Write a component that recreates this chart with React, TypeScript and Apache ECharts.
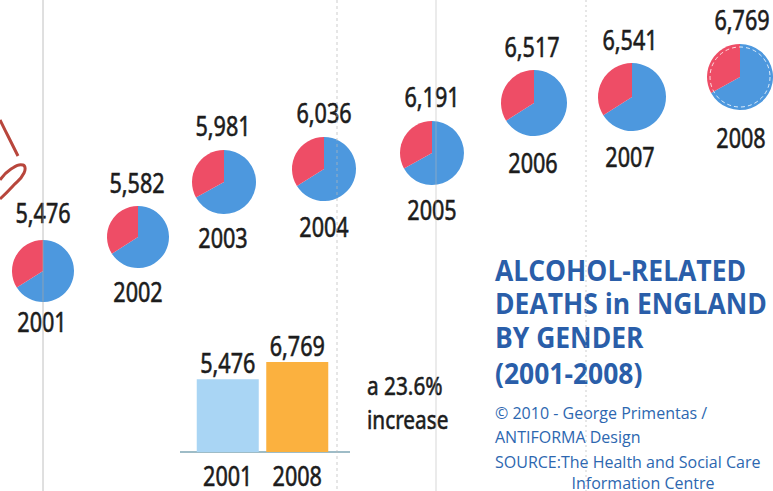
import React, { useEffect, useRef } from "react";
import * as echarts from "echarts";

// ---- data ----
const years = ["2001", "2002", "2003", "2004", "2005", "2006", "2007", "2008"];
const totals = [5476, 5582, 5981, 6036, 6191, 6517, 6541, 6769];
const maleDeaths = [3616, 3682, 4006, 3986, 4146, 4302, 4316, 4534];
const femaleDeaths = [1860, 1900, 1975, 2050, 2045, 2215, 2225, 2235];
const barYears = ["2001", "2008"];
const barValues = [5476, 6769];
const increaseText = ["a 23.6%", "increase"];
const titleLines = ["ALCOHOL-RELATED", "DEATHS in ENGLAND", "BY GENDER", "(2001-2008)"];
const creditLines = ["© 2010 - George Primentas /", "ANTIFORMA Design", "SOURCE:The Health and Social Care"];
const creditLast = "Information Centre";

// ---- layout ----
const pieCenters = [[43, 271], [138, 237], [224, 182], [324, 169], [432, 153], [534, 103], [632, 97], [740, 77]];
const pieRadii = [31, 31, 32, 32, 32, 33, 34, 33];
const totalLabelPos = [[43, 213], [137, 183], [223, 126], [324, 113], [432, 97], [532, 47], [630, 40], [742, 20]];
const yearLabelPos = [[42, 322], [138, 292], [223, 238], [324, 227], [432, 210], [533, 163], [630, 157], [741, 138]];

const BLUE = "#4d98de";
const RED = "#ee4d66";
const BAR_COLORS = ["#a9d5f4", "#fbb13f"];
const TEXT = "#1c1c1c";
const TITLE_BLUE = "#2a5ea9";
const NUM_FONT = "'Noto Sans', sans-serif";
const COND_SCALE = 0.8;

const fmt = (v: number) => v.toLocaleString("en-US");

function txt(x: number, y: number, text: string, extra: any = {}, scaleX = COND_SCALE) {
  return {
    type: "text",
    x,
    y,
    scaleX,
    silent: true,
    z: 10,
    style: {
      text,
      fontSize: 27,
      fontFamily: NUM_FONT,
      fill: TEXT,
      stroke: TEXT,
      lineWidth: 0.6,
      align: "center",
      verticalAlign: "middle",
      ...extra,
    },
  };
}

export default function App() {
  const ref = useRef<HTMLDivElement>(null);
  useEffect(() => {
    if (!ref.current) return;
    const chart = echarts.init(ref.current, undefined, { renderer: "svg" });

    const pies = years.map((y, i) => ({
      type: "pie",
      name: y,
      center: pieCenters[i],
      radius: pieRadii[i],
      startAngle: 90,
      clockwise: true,
      silent: true,
      label: { show: false },
      labelLine: { show: false },
      itemStyle: { borderWidth: 0 },
      data: [
        { name: "Male", value: maleDeaths[i], itemStyle: { color: BLUE } },
        { name: "Female", value: femaleDeaths[i], itemStyle: { color: RED } },
      ],
    }));

    const graphics: any[] = [];
    // scan fold lines
    const folds = [
      { x: 43, color: "#a5a5a5", dash: null, op: 0.7 },
      { x: 337, color: "#b8b8b8", dash: [3, 3], op: 0.7 },
      { x: 436, color: "#b8b8b8", dash: null, op: 0.55 },
      { x: 586, color: "#b8b8b8", dash: [2, 3], op: 0.7 },
    ];
    folds.forEach((f) =>
      graphics.push({
        type: "line",
        silent: true,
        z: 20,
        shape: { x1: f.x, y1: 0, x2: f.x, y2: 491 },
        style: { stroke: f.color, lineWidth: 1, opacity: f.op, lineDash: f.dash || undefined },
      })
    );
    // handwritten scribble
    graphics.push({
      type: "polyline",
      silent: true,
      shape: { points: [[0, 120], [8, 136], [18, 156]], smooth: 0.4 },
      style: { stroke: "#b8463c", lineWidth: 3, fill: null },
    });
    graphics.push({
      type: "polyline",
      silent: true,
      shape: { points: [[0, 180], [11, 169], [23, 165], [24, 173], [12, 187], [0, 199]], smooth: 0.5 },
      style: { stroke: "#b8463c", lineWidth: 3, fill: null },
    });
    // dashed ring on 2008 pie
    graphics.push({
      type: "circle",
      silent: true,
      z: 15,
      shape: { cx: pieCenters[7][0], cy: pieCenters[7][1], r: pieRadii[7] - 3 },
      style: { fill: null, stroke: "#ffffff", lineWidth: 1, lineDash: [4, 3], opacity: 0.8 },
    });
    // totals and years
    years.forEach((y, i) => {
      graphics.push(txt(totalLabelPos[i][0], totalLabelPos[i][1], fmt(totals[i])));
      graphics.push(txt(yearLabelPos[i][0], yearLabelPos[i][1], y));
    });
    // bar baseline
    graphics.push({
      type: "line",
      silent: true,
      shape: { x1: 180, y1: 452, x2: 350, y2: 452 },
      style: { stroke: "#7ea6b5", lineWidth: 1.5 },
    });
    // increase text
    graphics.push(txt(367, 385, increaseText[0], { align: "left", fontSize: 26 }));
    graphics.push(txt(367, 419, increaseText[1], { align: "left", fontSize: 26 }));
    // title
    const titleY = [270, 303, 337, 373];
    titleLines.forEach((t, i) =>
      graphics.push(
        txt(
          495,
          titleY[i],
          t,
          {
            align: "left",
            fontFamily: "'Open Sans', sans-serif",
            fontWeight: "bold",
            fontSize: 28,
            fill: TITLE_BLUE,
            stroke: null,
            lineWidth: 0,
          },
          0.945
        )
      )
    );
    const creditY = [413, 437, 462];
    const creditStyle = {
      fontFamily: "'Open Sans', sans-serif",
      fontSize: 16,
      fill: "#2d67b0",
      stroke: null,
      lineWidth: 0,
    };
    creditLines.forEach((t, i) =>
      graphics.push(txt(495, creditY[i], t, { align: "left", ...creditStyle }, 1))
    );
    graphics.push(txt(643, 483, creditLast, creditStyle, 1));

    chart.setOption({
      animation: false,
      backgroundColor: "#ffffff",
      grid: { left: 193, top: 359, width: 139, height: 93 },
      xAxis: {
        type: "category",
        data: barYears,
        axisLine: { show: false },
        axisTick: { show: false },
        axisLabel: { show: false },
      },
      yAxis: { type: "value", min: 0, max: 7000, show: false, splitLine: { show: false } },
      series: [
        {
          type: "bar",
          silent: true,
          barWidth: 62,
          data: barValues.map((v, i) => ({ value: v, itemStyle: { color: BAR_COLORS[i] } })),
        },
        ...pies,
      ],
      graphic: graphics,
    });

    // condensed bar value labels and category labels, placed through the chart's own scales
    const barTexts: any[] = [];
    barYears.forEach((yr, i) => {
      const top = chart.convertToPixel({ gridIndex: 0 }, [yr, barValues[i]]) as number[];
      const base = chart.convertToPixel({ gridIndex: 0 }, [yr, 0]) as number[];
      barTexts.push(txt(top[0], top[1] - 17, fmt(barValues[i])));
      barTexts.push(txt(base[0], base[1] + 24, yr));
    });
    chart.setOption({ graphic: [...graphics, ...barTexts] });

    return () => chart.dispose();
  }, []);
  return <div ref={ref} style={{ position: "absolute", left: 0, top: 0, width: 773, height: 491 }} />;
}
